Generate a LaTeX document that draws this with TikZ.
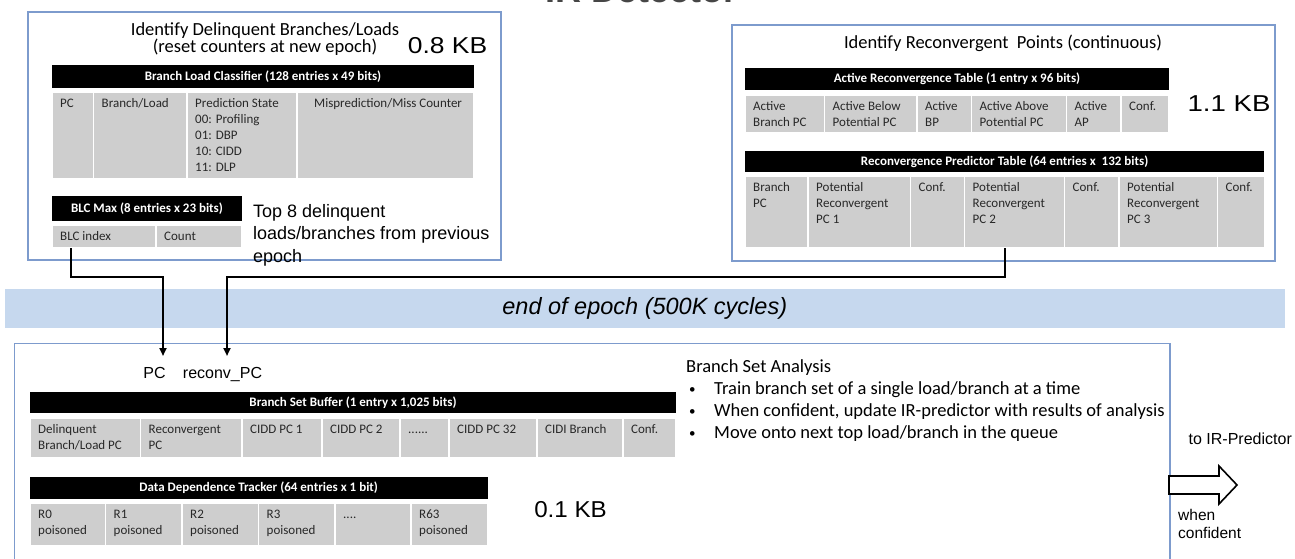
\documentclass[tikz,border=0pt]{standalone}
\usepackage{fontspec}
\setmainfont{Carlito}
\newfontfamily\arial{Liberation Sans}
\usetikzlibrary{arrows.meta}
\definecolor{panelblue}{RGB}{125,155,205}
\definecolor{cellgray}{RGB}{206,206,206}
\definecolor{bandblue}{RGB}{198,216,238}
\definecolor{titlegray}{RGB}{70,70,70}
\definecolor{celltxt}{RGB}{40,40,40}
\tikzset{
  panel/.style={draw=panelblue, line width=1.2pt, fill=white, anchor=north west, inner sep=0, outer sep=0},
  hdr/.style={fill=black, text=white, anchor=north west, inner sep=0, outer sep=0, font=\bfseries\fontsize{13}{15}\selectfont},
  cellbg/.style={fill=cellgray, draw=white, line width=1.2pt, anchor=north west, inner sep=0, outer sep=0},
  celltext/.style={anchor=north west, inner sep=0, align=left, text=celltxt, font=\fontsize{13}{16}\selectfont},
  ttext/.style={inner sep=0, align=center, text=black, font=\fontsize{18.5}{17}\selectfont},
  kb/.style={inner sep=0, font=\arial\fontsize{23}{26}\selectfont},
  atext/.style={inner sep=0, align=left, font=\arial\fontsize{16}{19}\selectfont},
  conn/.style={line width=2pt, -{Triangle[width=7pt,length=8pt]}},
  blockarrow/.style={draw=black, line width=1.6pt, fill=white, line join=miter},
  band/.style={fill=bandblue, anchor=north west, inner sep=0, outer sep=0, font=\arial\itshape\fontsize{23.5}{26}\selectfont}
}
% name x1 y1 x2 y2 text
\newcommand\tabcell[6]{%
  \node[cellbg, minimum width={#4pt-#2pt}, minimum height={#5pt-#3pt}] (#1) at (#2,#3) {};
  \node[celltext] (#1t) at (#2+8,#3+4) {\rule{0pt}{11pt}#6};
}
% name x1 y1 x2 y2 text
\newcommand\tabhdr[6]{%
  \node[hdr, minimum width={#4pt-#2pt}, minimum height={#5pt-#3pt}] (#1) at (#2,#3) {#6};
}
\newcommand\bul{\hspace*{3pt}\makebox[25pt][l]{\raisebox{1pt}{\fontsize{13}{13}\selectfont •}}}
\begin{document}
\begin{tikzpicture}[x=1pt, y=-1pt]
\useasboundingbox (0,0) rectangle (1295,559);

% page title (cut off at the top)
\node[font=\arial\bfseries\fontsize{36}{40}\selectfont, text=titlegray, anchor=base, inner sep=0] (ttl) at (642,2.5) {IR Detector};

% epoch band
\node[band, minimum width=1279.5pt, minimum height=39pt] (band) at (5,289) {end of epoch (500K cycles)};

% ---------- left panel ----------
\node[panel, minimum width=473pt, minimum height=248pt] (p1) at (28,12) {};
\node[ttext] (t1) at (265,39.5) {Identify Delinquent Branches/Loads\\(reset counters at new epoch)};
\node[kb] (kb1) at (447.5,46) {\scalebox{1.15}[1]{0.8 KB}};

\tabhdr{blch}{52}{65}{474}{88}{Branch Load Classifier (128 entries x 49 bits)}
\tabcell{blc1}{52}{92}{93.5}{179}{PC}
\tabcell{blc2}{93.5}{92}{187}{179}{Branch/Load}
\tabcell{blc3}{187}{92}{297}{179}{Prediction State\\00: Profiling\\01: DBP\\10: CIDD\\11: DLP}
\tabcell{blc4}{297}{92}{474}{179}{\hspace*{9pt}Misprediction/Miss Counter}

\tabhdr{maxh}{52}{196}{242}{221}{BLC Max (8 entries x 23 bits)}
\tabcell{blcidx}{52}{225}{156}{248}{BLC index}
\tabcell{blccnt}{156}{225}{242}{248}{Count}
\node[inner sep=0, align=left, anchor=west, font=\arial\fontsize{18}{22.5}\selectfont] (top8) at (253,235)
  {Top 8 delinquent\\loads/branches from previous\\epoch};

% ---------- right panel ----------
\node[panel, minimum width=543pt, minimum height=236pt] (p2) at (732,25) {};
\node[ttext] (t2) at (1003,43.5) {Identify Reconvergent~ Points (continuous)};
\node[kb] (kb2) at (1229,104) {\scalebox{1.2}[1]{1.1 KB}};

\tabhdr{arth}{745}{68}{1169}{90}{Active Reconvergence Table (1 entry x 96 bits)}
\tabcell{art1}{745}{95}{824.5}{133}{Active\\Branch PC}
\tabcell{art2}{824.5}{95}{917}{133}{Active Below\\Potential PC}
\tabcell{art3}{917}{95}{971.5}{133}{Active\\BP}
\tabcell{art4}{971.5}{95}{1066.5}{133}{Active Above\\Potential PC}
\tabcell{art5}{1066.5}{95}{1121}{133}{Active\\AP}
\tabcell{art6}{1121}{95}{1169}{133}{Conf.}

\tabhdr{rpth}{745}{151}{1264.3}{172}{Reconvergence Predictor Table (64 entries x~ 132 bits)}
\tabcell{rpt1}{745}{176}{808}{248}{Branch\\PC}
\tabcell{rpt2}{808}{176}{910.5}{248}{Potential\\Reconvergent\\PC 1}
\tabcell{rpt3}{910.5}{176}{964.5}{248}{Conf.}
\tabcell{rpc2}{964.5}{176}{1064.5}{248}{Potential\\Reconvergent\\PC 2}
\tabcell{rpt5}{1064.5}{176}{1119}{248}{Conf.}
\tabcell{rpt6}{1119}{176}{1217.5}{248}{Potential\\Reconvergent\\PC 3}
\tabcell{rpt7}{1217.5}{176}{1264.3}{248}{Conf.}

% ---------- bottom panel ----------
\node[panel, minimum width=1155.5pt, minimum height=240pt] (p3) at (14.5,343.5) {};
\node[atext, anchor=base] (pclab) at (154.5,378) {PC};
\node[atext, anchor=base] (rclab) at (222.5,378) {reconv\_PC};

\tabhdr{bsbh}{30}{391.5}{676}{413}{Branch Set Buffer (1 entry x 1,025 bits)}
\tabcell{bsb1}{30}{418}{140.5}{458}{Delinquent\\Branch/Load PC}
\tabcell{bsb2}{140.5}{418}{242}{458}{Reconvergent\\PC}
\tabcell{bsb3}{242}{418}{322}{458}{CIDD PC 1}
\tabcell{bsb4}{322}{418}{400}{458}{CIDD PC 2}
\tabcell{bsb5}{400}{418}{449}{458}{......}
\tabcell{bsb6}{449}{418}{537}{458}{CIDD PC 32}
\tabcell{bsb7}{537}{418}{623}{458}{CIDI Branch}
\tabcell{bsb8}{623}{418}{676}{458}{Conf.}

\tabhdr{ddth}{30}{477}{487.5}{499}{Data Dependence Tracker (64 entries x 1 bit)}
\tabcell{ddt1}{30}{503}{105.5}{546}{R0\\poisoned}
\tabcell{ddt2}{105.5}{503}{182}{546}{R1\\poisoned}
\tabcell{ddt3}{182}{503}{258.5}{546}{R2\\poisoned}
\tabcell{ddt4}{258.5}{503}{335}{546}{R3\\poisoned}
\tabcell{ddt5}{335}{503}{411}{546}{....}
\tabcell{ddt6}{411}{503}{487.5}{546}{R63\\poisoned}
\node[kb] (kb3) at (570.5,510) {\scalebox{1.05}[1]{0.1 KB}};

\node[anchor=north west, inner sep=0, align=left, font=\fontsize{18.5}{22}\selectfont] (bsa) at (686,357.7)
  {\rule{0pt}{15pt}Branch Set Analysis\\
   \bul Train branch set of a single load/branch at a time\\
   \bul When confident, update IR-predictor with results of analysis\\
   \bul Move onto next top load/branch in the queue};

\node[atext, anchor=west] (toir) at (1188.5,439) {to IR-Predictor};
\node[atext, anchor=north west, font=\arial\fontsize{15.5}{18.3}\selectfont] (whenc) at (1178,508) {\rule{0pt}{12pt}when\\confident};

% output block arrow
\draw[blockarrow] (1169,476) -- (1219,476) -- (1219,466) -- (1237,485) -- (1219,504) -- (1219,494) -- (1169,494) -- cycle;

% connectors
\coordinate (pcend) at (163,356);
\coordinate (rcend) at (227,356);
\draw[conn] ([xshift=19pt]blcidx.south west) |- (163,277) -- (pcend);
\draw[conn] ([xshift=40.5pt]rpc2.south west) |- (227,277) -- (rcend);
\end{tikzpicture}
\end{document}
